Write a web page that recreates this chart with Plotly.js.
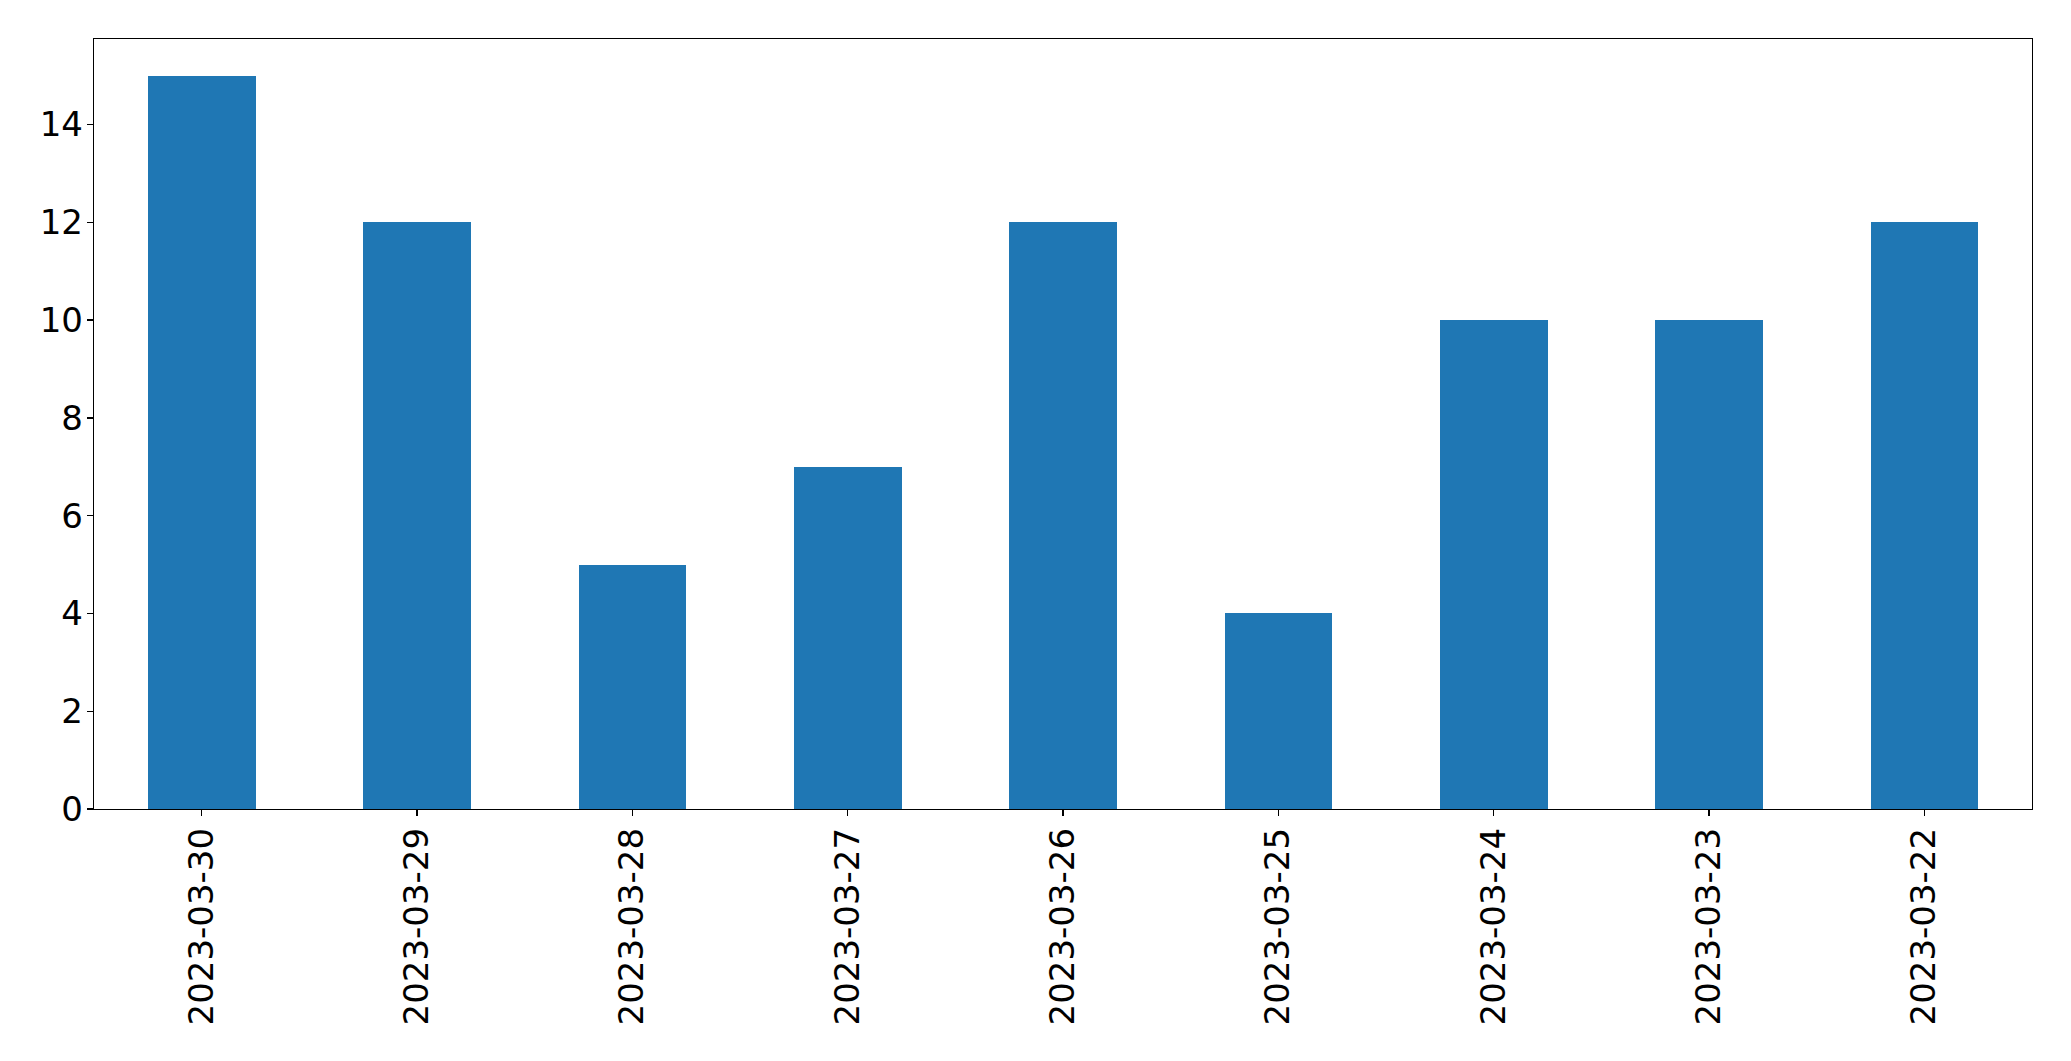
<!DOCTYPE html>
<html>
<head>
<meta charset="utf-8">
<script src="https://cdn.plot.ly/plotly-3.0.1.min.js"></script>
<style>html,body{margin:0;padding:0;background:#fff;}#chart{width:2071px;height:1061px;}</style>
</head>
<body>
<div id="chart"></div>
<script>
const categories = ["2023-03-30","2023-03-29","2023-03-28","2023-03-27","2023-03-26","2023-03-25","2023-03-24","2023-03-23","2023-03-22"];
const values = [15, 12, 5, 7, 12, 4, 10, 10, 12];
const yTicks = [0, 2, 4, 6, 8, 10, 12, 14];

const trace = {
  type: 'bar',
  x: categories,
  y: values,
  width: 0.5,
  marker: {color: '#1f77b4', line: {width: 0}},
  hoverinfo: 'x+y'
};

const font = {family: 'DejaVu Sans, sans-serif', size: 34, color: '#000'};

const layout = {
  width: 2071,
  height: 1061,
  margin: {l: 94, r: 39, t: 39, b: 252, pad: 0},
  paper_bgcolor: '#fff',
  plot_bgcolor: '#fff',
  showlegend: false,
  font: font,
  bargap: 0,
  xaxis: {
    type: 'category',
    range: [-0.5, 8.5],
    tickangle: -90,
    ticks: 'outside',
    ticklen: 6,
    tickwidth: 1.3,
    tickcolor: '#000',
    showline: true,
    linecolor: '#000',
    linewidth: 1.3,
    mirror: true,
    showgrid: false,
    zeroline: false,
    tickfont: font,
    ticklabelstandoff: -2
  },
  yaxis: {
    range: [0, 15.75],
    tickvals: yTicks,
    ticktext: yTicks.map(String),
    ticks: 'outside',
    ticklen: 6,
    tickwidth: 1.3,
    tickcolor: '#000',
    showline: true,
    linecolor: '#000',
    linewidth: 1.3,
    mirror: true,
    showgrid: false,
    zeroline: false,
    tickfont: font,
    ticklabelstandoff: -3
  }
};

Plotly.newPlot('chart', [trace], layout, {displayModeBar: false, staticPlot: true});
</script>
</body>
</html>
